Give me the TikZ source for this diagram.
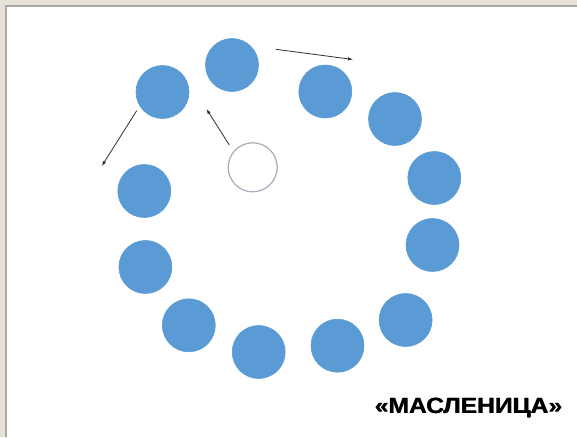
\documentclass[tikz,border=0pt]{standalone}
\usepackage{fontspec}
\setmainfont{Liberation Sans}
\usetikzlibrary{arrows.meta}
\definecolor{frame}{HTML}{E6E0D6}
\definecolor{frameline}{HTML}{A8A8A8}
\definecolor{ball}{HTML}{5B9BD5}
\definecolor{ring}{HTML}{A4AEB8}
\definecolor{arr}{HTML}{303030}
\tikzset{
  ball/.style={circle, fill=ball, draw=ball, line width=0.6pt, minimum size=53pt, inner sep=0pt},
  ringnode/.style={circle, draw=ring, line width=1.2pt, fill=white, minimum size=49pt, inner sep=0pt},
  arrowline/.style={draw=arr, line width=0.8pt, -{Latex[length=5pt,width=3.5pt]}},
  titletext/.style={font=\fontsize{22}{22}\selectfont\bfseries, xscale=1.12, inner sep=0pt},
}
\begin{document}
\begin{tikzpicture}[x=1pt,y=-1pt]
\useasboundingbox (0,0) rectangle (577,437);
\fill[frame] (0,0) rectangle (577,437);
\fill[white] (6,6) rectangle (577,437);
\draw[frameline, line width=2pt] (6,437) -- (6,6) -- (577,6);
% balls
\node[ball] (b1) at (232,65) {};
\node[ball] (b2) at (162.5,92) {};
\node[ball] (b3) at (325.3,91.5) {};
\node[ball] (b4) at (395,119) {};
\node[ball] (b5) at (434.3,178) {};
\node[ball] (b6) at (432.5,245) {};
\node[ball] (b7) at (144.3,191) {};
\node[ball] (b8) at (145.4,267) {};
\node[ball] (b9) at (188.8,325.3) {};
\node[ball] (b10) at (258.7,352) {};
\node[ball] (b11) at (337.5,345.7) {};
\node[ball] (b12) at (405.6,320) {};
\node[ringnode] (c) at (252.7,167.3) {};
% arrows
\coordinate (a1s) at (276,49.3);
\coordinate (a1e) at (353,59.5);
\coordinate (a2s) at (229.3,145);
\coordinate (a2e) at (206.5,109);
\coordinate (a3s) at (136.7,110.7);
\coordinate (a3e) at (101.8,166);
\draw[arrowline] (a1s) -- (a1e);
\draw[arrowline] (a2s) -- (a2e);
\draw[arrowline] (a3s) -- (a3e);
% title (drawn with a small offset copy for a heavier weight)
\node[titletext] (t2) at (468.9,407.5) {«МАСЛЕНИЦА»};
\node[titletext] (t) at (468.3,407.5) {«МАСЛЕНИЦА»};
\end{tikzpicture}
\end{document}
